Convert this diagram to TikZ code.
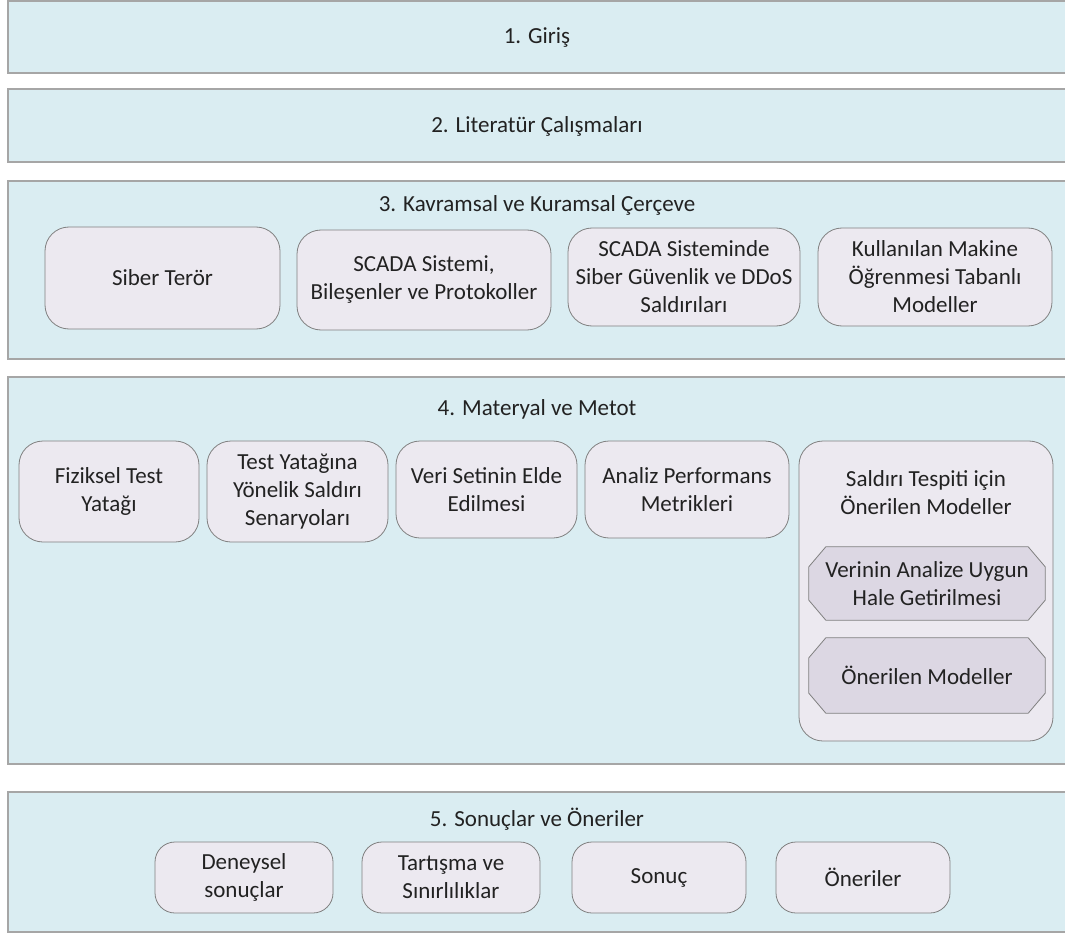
\documentclass[tikz,border=0pt]{standalone}
\usepackage{fontspec}
\setmainfont{Carlito}
\usetikzlibrary{calc}
\definecolor{secfill}{HTML}{DAEDF2}
\definecolor{secline}{HTML}{A6A6A6}
\definecolor{itemfill}{HTML}{ECE9F0}
\definecolor{octfill}{HTML}{DCD7E3}
\definecolor{itemline}{HTML}{808080}
\definecolor{ink}{HTML}{222222}
\tikzset{
  secbox/.style={draw=secline, line width=1.3pt, fill=secfill},
  sectitle/.style={text=ink, inner sep=0pt, anchor=center},
  itembox/.style={draw=itemline, fill=itemfill, line width=0.8pt, rounded corners=24pt,
    align=center, inner sep=0pt, text=ink},
  smallitem/.style={itembox, rounded corners=20pt},
  octframe/.style={draw=itemline, fill=octfill, line width=0.8pt},
  octtext/.style={align=center, inner sep=0pt, text=ink},
  octslot/.style={draw=none, fill=none, inner sep=0pt}
}
\begin{document}
\begin{tikzpicture}[x=1pt, y=-1pt, font=\fontsize{23}{28}\selectfont]
\useasboundingbox (0,0) rectangle (1065,933);
\clip (0,0) rectangle (1065,933);

% section frames
\draw[secbox] (8,1) rectangle (1080,73);
\draw[secbox] (8,89) rectangle (1080,162);
\draw[secbox] (8,181) rectangle (1080,359);
\draw[secbox] (8,377) rectangle (1080,764);
\draw[secbox] (8,792) rectangle (1080,932);

% section titles
\node[sectitle] (t1) at (537,38) {1. Giriş};
\node[sectitle] (t2) at (537,126) {2. Literatür Çalışmaları};
\node[sectitle] (t3) at (537,205) {3. Kavramsal ve Kuramsal Çerçeve};
\node[sectitle] (t4) at (537,409) {4. Materyal ve Metot};
\node[sectitle] (t5) at (537,819) {5. Sonuçlar ve Öneriler};

% section 3 items
\node[itembox, minimum width=235, minimum height=102] (st) at (162.5,278) {Siber Terör};
\node[itembox, minimum width=254, minimum height=100] (scada) at (424,280) {SCADA Sistemi,\\Bileşenler ve Protokoller};
\node[itembox, minimum width=232, minimum height=98] (guv) at (684,277) {SCADA Sisteminde\\Siber Güvenlik ve DDoS\\Saldırıları};
\node[itembox, minimum width=234, minimum height=98] (ml) at (935,277) {Kullanılan Makine\\Öğrenmesi Tabanlı\\Modeller};

% section 4 items
\node[itembox, minimum width=180, minimum height=101] (fiz) at (109,491.5) {Fiziksel Test\\Yatağı};
\node[itembox, minimum width=181, minimum height=101] (tya) at (297.5,491.5) {Test Yatağına\\Yönelik Saldırı\\Senaryoları};
\node[itembox, minimum width=181, minimum height=97] (veri) at (486.5,489.5) {Veri Setinin Elde\\Edilmesi};
\node[itembox, minimum width=204, minimum height=97] (analiz) at (687,489.5) {Analiz Performans\\Metrikleri};
\node[itembox, minimum width=254, minimum height=300] (sald) at (926,591) {};
\node[octtext] (saldt) at (926,492.5) {Saldırı Tespiti için\\Önerilen Modeller};

% octagonal sub-steps
\node[octslot, minimum width=236, minimum height=73] (o1) at (927,583.5) {};
\draw[octframe] ($(o1.north west)+(17,0)$) -- ($(o1.north east)+(-17,0)$)
  -- ($(o1.north east)+(0,20)$) -- ($(o1.south east)+(0,-20)$)
  -- ($(o1.south east)+(-17,0)$) -- ($(o1.south west)+(17,0)$)
  -- ($(o1.south west)+(0,-20)$) -- ($(o1.north west)+(0,20)$) -- cycle;
\node[octtext] (o1t) at (o1) {Verinin Analize Uygun\\Hale Getirilmesi};

\node[octslot, minimum width=236, minimum height=75] (o2) at (927,675.5) {};
\draw[octframe] ($(o2.north west)+(17,0)$) -- ($(o2.north east)+(-17,0)$)
  -- ($(o2.north east)+(0,20)$) -- ($(o2.south east)+(0,-20)$)
  -- ($(o2.south east)+(-17,0)$) -- ($(o2.south west)+(17,0)$)
  -- ($(o2.south west)+(0,-20)$) -- ($(o2.north west)+(0,20)$) -- cycle;
\node[octtext] (o2t) at (o2) {Önerilen Modeller};

% section 5 items
\node[smallitem, minimum width=178, minimum height=71] (den) at (244,877.5) {Deneysel\\sonuçlar};
\node[smallitem, minimum width=178, minimum height=71] (tar) at (451,877.5) {Tartışma ve\\Sınırlılıklar};
\node[smallitem, minimum width=174, minimum height=71] (son) at (659,877.5) {Sonuç};
\node[smallitem, minimum width=174, minimum height=71] (oner) at (863,877.5) {Öneriler};
\end{tikzpicture}
\end{document}
